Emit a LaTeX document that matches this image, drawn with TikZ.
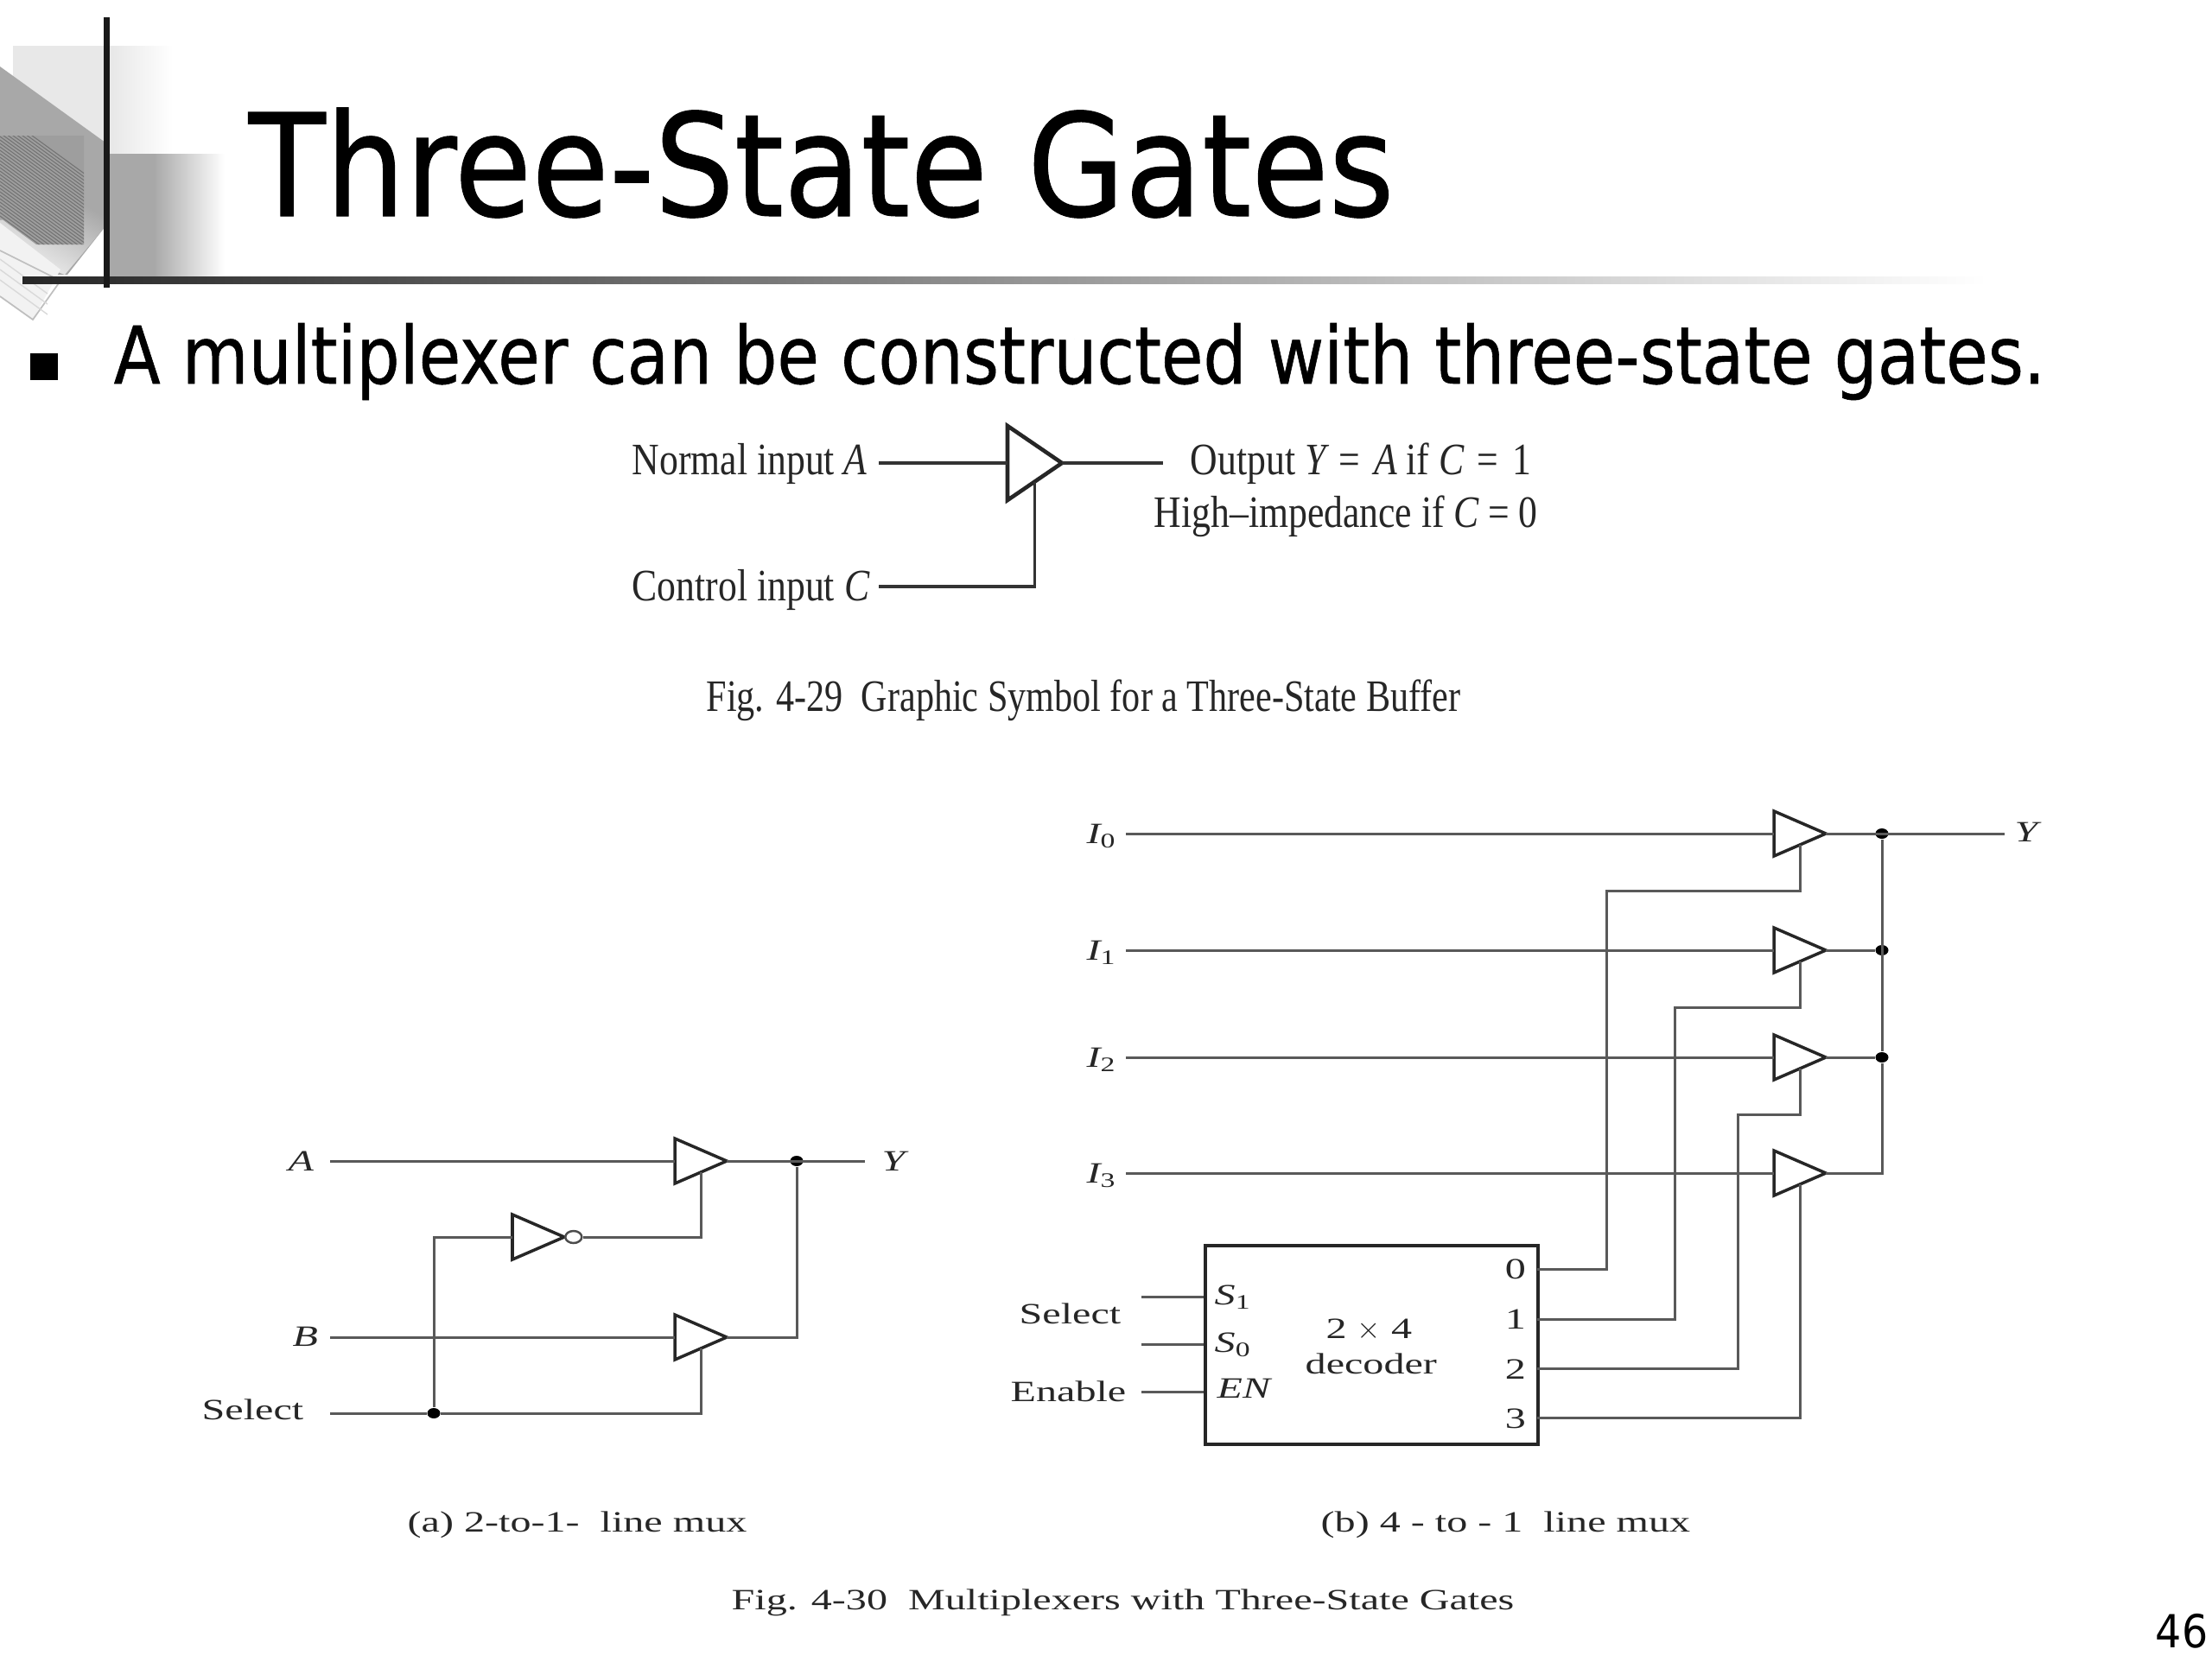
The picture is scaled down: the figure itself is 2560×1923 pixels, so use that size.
\documentclass[tikz,border=0pt]{standalone}
\usepackage{fontspec}
\setmainfont{Liberation Serif}
\newfontfamily\titlefont[FakeStretch=0.883,FakeBold=0.6]{DejaVu Sans}
\newfontfamily\bodyfont[FakeStretch=0.857,FakeBold=0.6]{DejaVu Sans}
\newfontfamily\pagefont[FakeStretch=0.9]{DejaVu Sans}
\newfontfamily\narrowfont[FakeStretch=0.84]{Liberation Serif}
\newfontfamily\capfont[FakeStretch=0.81]{Liberation Serif}
\newfontfamily\widefont[FakeStretch=1.41]{Liberation Serif}
\usetikzlibrary{shapes.geometric}
\tikzset{
  titletext/.style={inner sep=0, anchor=base west, font=\titlefont\fontsize{46.9}{50}\selectfont},
  bodytext/.style={inner sep=0, anchor=base west, font=\bodyfont\fontsize{26.2}{30}\selectfont},
  symtext/.style={inner sep=0, anchor=base west, text=black!85, font=\narrowfont\fontsize{14.8}{17}\selectfont},
  muxtext/.style={inner sep=0, anchor=base west, text=black!85, font=\widefont\fontsize{9.7}{12}\selectfont},
  gatebuf/.style={draw=black!85, fill=white, line width=1pt, isosceles triangle, isosceles triangle stretches,
    minimum width=0.52cm, minimum height=0.6cm, inner sep=0, outer sep=0, anchor=lower side},
  wire/.style={draw=black!65, line width=0.85pt},
  thickwire/.style={draw=black!80, line width=1.1pt},
  junction/.style={ellipse, fill=black, inner sep=0, minimum width=0.15cm, minimum height=0.12cm},
  bubble/.style={ellipse, draw=black!70, fill=white, line width=0.7pt, inner sep=0, minimum width=0.19cm, minimum height=0.14cm, anchor=west}
}

\begin{document}
\begin{tikzpicture}[x=0.01cm,y=-0.01cm]
\useasboundingbox (0,0) rectangle (2560,1923);

% corner decoration
\fill[black!9] (15,53) rectangle (130,178);
\shade[left color=black!9, right color=white] (130,53) rectangle (200,178);
\fill[black!34] (122,178) rectangle (178,320);
\shade[left color=black!34, right color=white] (178,178) rectangle (260,320);
\fill[black!34] (0,77) -- (122,165) -- (122,262) -- (78,318) -- (0,318) -- cycle;
\shade[top color=black!34, bottom color=black!5, shading angle=-30] (0,255) -- (122,230) -- (122,262) -- (75,318) -- (0,290) -- cycle;
\fill[black!38] (0,157) -- (97,157) -- (97,283) -- (42,283) -- (0,252) -- cycle;
\begin{scope}
\clip (0,157) -- (97,157) -- (97,283) -- (42,283) -- (0,252) -- cycle;
\foreach \i in {0,4,...,240} {
  \draw[black!55, line width=0.3pt] (0,130+\i) -- (110,210+\i);
}
\end{scope}
\fill[black!5] (0,258) -- (70,312) -- (38,370) -- (0,343) -- cycle;
\draw[black!25, line width=0.5pt] (0,290) -- (70,325) -- (38,370) -- (0,343);
\foreach \i in {0,12,24} {
  \draw[black!15, line width=0.4pt] (0,300+\i) -- (55,340+\i);
}
\shade[left color=black!85, middle color=black!65, right color=white] (26,320) rectangle (2300,328);
\fill[black!90] (120,20) rectangle (127,333);

% heading
\node[titletext] (heading) at (287,250) {Three-State Gates};
\node[fill=black, minimum width=0.31cm, minimum height=0.31cm, inner sep=0] (square) at (51,424) {};
\node[bodytext] (bullet) at (131,444) {A multiplexer can be constructed with three-state gates.};
\node[inner sep=0, anchor=base east, font=\pagefont\fontsize{15}{18}\selectfont] (page) at (2556,1907) {46};

% fig 4-29
\node[symtext] (lnormal) at (731,549) {Normal input {\itshape A}};
\node[symtext] (lcontrol) at (731,695) {Control input {\itshape C}};
\node[symtext] (lout) at (1377,549) {Output {\itshape Y}\hspace{4.4pt}=\hspace{4.4pt}{\itshape A} if {\itshape C}\hspace{4.4pt}=\hspace{4.4pt}1};
\node[symtext] (lhigh) at (1335,610) {High–impedance if {\itshape C}\hspace{3pt}=\hspace{3pt}0};
\node[symtext, font=\capfont\fontsize{14.8}{17}\selectfont] (lfiga) at (817,823) {Fig. 4-29\ \ Graphic Symbol for a Three-State Buffer};
\coordinate (pnormal) at (1017,536);
\coordinate (pcontrol) at (1017,679);
\coordinate (pout) at (1346,536);
\node[gatebuf, line width=1.3pt, minimum width=0.86cm, minimum height=0.63cm] (gbuf) at (1166,536) {};
\draw[thickwire] (pnormal) -- (gbuf.lower side);
\draw[thickwire] (gbuf.apex) -- (pout);
\draw[thickwire] (pcontrol) -| (gbuf.right side);

% fig 4-30 (a)
\node[muxtext] (la) at (333,1355) {\itshape A};
\node[muxtext] (lb) at (338,1558) {\itshape B};
\node[muxtext] (lsel) at (233,1643) {Select};
\node[muxtext] (ly) at (1020,1355) {\itshape Y};
\node[muxtext] (lcapa) at (471,1773) {(a) 2-to-1-\ \ line mux};
\coordinate (pa) at (382,1344);
\coordinate (pb) at (382,1548);
\coordinate (psel) at (382,1636);
\coordinate (py) at (1001,1344);
\node[gatebuf] (ga) at (781,1344) {};
\node[gatebuf] (gb) at (781,1548) {};
\node[gatebuf] (ginv) at (593,1432) {};
\node[bubble] (inv) at (ginv.apex) {};
\node[junction] (jsel) at (502,1636) {};
\node[junction] (jy) at (922,1344) {};
\draw[wire] (pa) -- (ga.lower side);
\draw[wire] (ga.apex) -- (py);
\draw[wire] (pb) -- (gb.lower side);
\draw[wire] (gb.apex) -| (jy);
\draw[wire] (psel) -- (jsel);
\draw[wire] (jsel) -| (gb.right side);
\draw[wire] (jsel) |- (ginv.lower side);
\draw[wire] (inv.east) -| (ga.right side);

% fig 4-30 (b)
\node[draw=black!85, line width=1pt, minimum width=3.85cm, minimum height=2.3cm, inner sep=0, anchor=north west] (dec) at (1393,1440) {};
\node[muxtext] (ls1) at (1405,1510) {{\itshape S}\textsubscript{1}};
\node[muxtext] (ls0) at (1405,1565) {{\itshape S}\textsubscript{0}};
\node[muxtext] (len) at (1408,1618) {\itshape EN};
\node[muxtext] (lsize) at (1534,1549) {2 $\times$ 4};
\node[muxtext] (ldec) at (1510,1590) {decoder};
\node[muxtext] (lselb) at (1179,1532) {Select};
\node[muxtext] (lenb) at (1169,1622) {Enable};
\node[muxtext] (lyb) at (2331,974) {\itshape Y};
\node[muxtext] (lcapb) at (1528,1773) {(b) 4 - to - 1\ \ line mux};
\node[muxtext] (lfigb) at (846,1863) {Fig. 4-30\ \ Multiplexers with Three-State Gates};
\foreach \n/\y in {0/1480,1/1538,2/1596,3/1653} {
  \node[muxtext, anchor=base] (lo\n) at (1754,\y) {\n};
}
\foreach \n/\y/\b in {0/965/976,1/1100/1111,2/1224/1235,3/1358/1369} {
  \node[muxtext, anchor=base west] (li\n) at (1257,\b) {{\itshape I}\textsubscript{\n}};
  \coordinate (pi\n) at (1303,\y);
  \node[gatebuf] (g\n) at (2053,\y) {};
  \draw[wire] (pi\n) -- (g\n.lower side);
}
\coordinate (ps1) at (1321,1501);
\coordinate (ps0) at (1321,1556);
\coordinate (pen) at (1321,1611);
\coordinate (pyb) at (2320,965);
\coordinate (o0) at (1779,1469);
\coordinate (o1) at (1779,1527);
\coordinate (o2) at (1779,1584);
\coordinate (o3) at (1779,1641);
\coordinate (t0) at (1859,1031);
\coordinate (t1) at (1938,1166);
\coordinate (t2) at (2011,1290);
\draw[wire] (ps1) -- (ps1 -| dec.west);
\draw[wire] (ps0) -- (ps0 -| dec.west);
\draw[wire] (pen) -- (pen -| dec.west);
\draw[wire] (o0) -| (t0) -| (g0.right side);
\draw[wire] (o1) -| (t1) -| (g1.right side);
\draw[wire] (o2) -| (t2) -| (g2.right side);
\draw[wire] (o3) -| (g3.right side);
\node[junction] (j0) at (2178,965) {};
\node[junction] (j1) at (2178,1100) {};
\node[junction] (j2) at (2178,1224) {};
\draw[wire] (g0.apex) -- (pyb);
\draw[wire] (g1.apex) -- (j1);
\draw[wire] (g2.apex) -- (j2);
\draw[wire] (g3.apex) -| (j2);
\draw[wire] (j0) -- (j2);
\end{tikzpicture}
\end{document}
